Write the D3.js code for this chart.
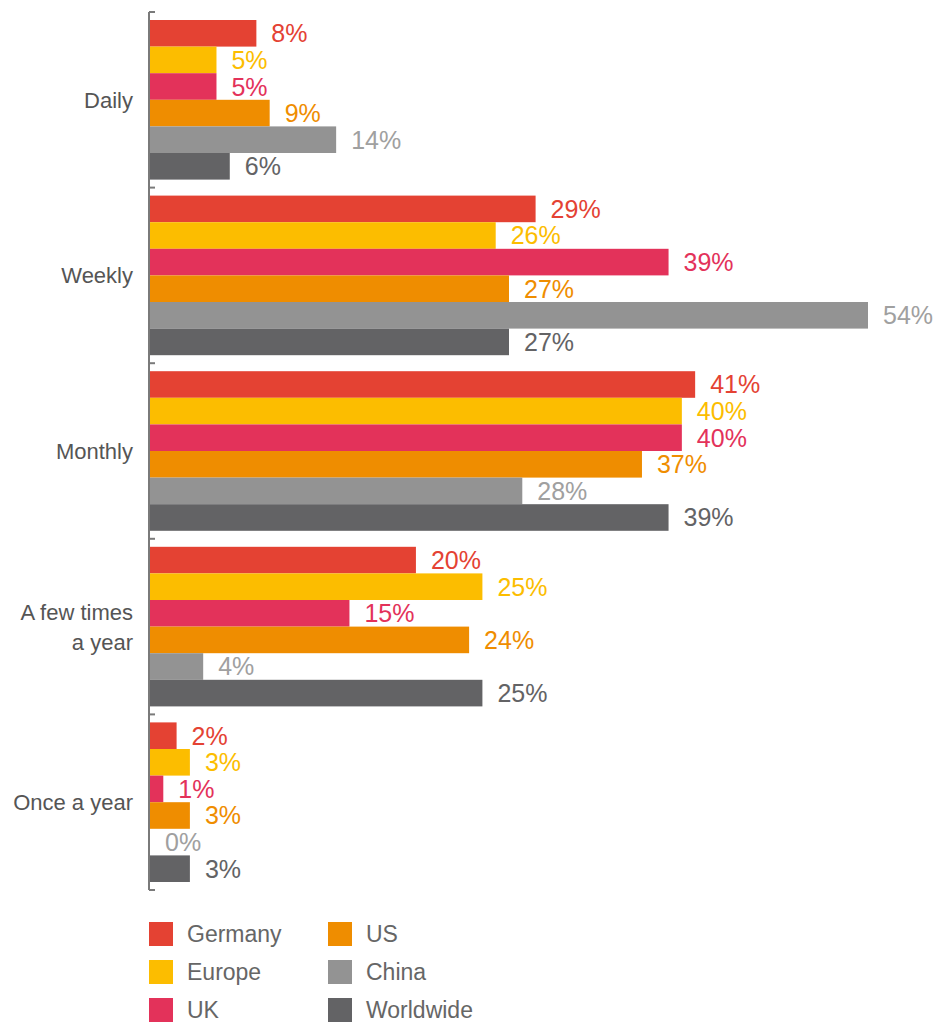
<!DOCTYPE html>
<html>
<head>
<meta charset="utf-8">
<script src="https://cdn.jsdelivr.net/npm/d3@7"></script>
<style>
  body { margin: 0; background: #fff; }
  text { font-family: "Liberation Sans", Arial, sans-serif; }
</style>
</head>
<body>
<div class="plot"></div>
<script>
// data
const categories = ["Daily", "Weekly", "Monthly", "A few times a year", "Once a year"];
const categoryLines = [["Daily"], ["Weekly"], ["Monthly"], ["A few times", "a year"], ["Once a year"]];
const seriesNames = ["Germany", "Europe", "UK", "US", "China", "Worldwide"];
const germany = [8, 29, 41, 20, 2];
const europe = [5, 26, 40, 25, 3];
const uk = [5, 39, 40, 15, 1];
const us = [9, 27, 37, 24, 3];
const china = [14, 54, 28, 4, 0];
const worldwide = [6, 27, 39, 25, 3];

const seriesValues = [germany, europe, uk, us, china, worldwide];
const barColors = ["#e44233", "#fcbd00", "#e3325a", "#ef8d00", "#939393", "#636365"];
const labelColors = ["#e44233", "#fcbd00", "#e3325a", "#ef8d00", "#a0a0a0", "#636365"];

const width = 933, height = 1023;
const margin = { top: 12, left: 150 };
const plotBottom = 890;

const svg = d3.select(".plot")
    .append("svg")
    .attr("width", width)
    .attr("height", height);

const x = d3.scaleLinear()
    .domain([0, 54])
    .range([margin.left, 868]);

const y0 = d3.scaleBand()
    .domain(categories)
    .range([margin.top, plotBottom])
    .paddingInner(0)
    .paddingOuter(0);

const y1 = d3.scaleBand()
    .domain(seriesNames)
    .range([8, y0.bandwidth() - 8]);

// bars
const groups = svg.selectAll(".cat")
    .data(categories)
    .enter().append("g")
    .attr("class", "cat")
    .attr("transform", d => `translate(0, ${y0(d)})`);

groups.each(function (cat, ci) {
    const g = d3.select(this);
    seriesNames.forEach((s, si) => {
        const v = seriesValues[si][ci];
        g.append("rect")
            .attr("x", x(0))
            .attr("y", y1(s))
            .attr("width", x(v) - x(0))
            .attr("height", y1.bandwidth())
            .attr("fill", barColors[si]);
        g.append("text")
            .attr("x", x(v) + 15)
            .attr("y", y1(s) + y1.bandwidth() / 2)
            .attr("dy", "0.36em")
            .attr("font-size", 25)
            .attr("fill", labelColors[si])
            .text(v + "%");
    });
});

// axis
const yAxis = d3.axisRight(y0).tickSize(6).tickFormat("");
const axisG = svg.append("g")
    .attr("transform", `translate(${margin.left - 1}, 0)`)
    .call(yAxis);
axisG.select(".domain").remove();
axisG.selectAll(".tick").remove();
axisG.append("line")
    .attr("y1", margin.top).attr("y2", plotBottom)
    .attr("stroke", "#7a7a7a").attr("stroke-width", 2);
const boundaries = categories.map(c => y0(c)).concat([plotBottom]);
axisG.selectAll(".bt")
    .data(boundaries)
    .enter().append("line")
    .attr("x1", 0).attr("x2", 6)
    .attr("y1", d => d).attr("y2", d => d)
    .attr("stroke", "#7a7a7a").attr("stroke-width", 2);

// category labels
categories.forEach((c, i) => {
    const lines = categoryLines[i];
    const cy = y0(c) + y0.bandwidth() / 2;
    const t = svg.append("text")
        .attr("x", 133)
        .attr("y", cy - (lines.length - 1) * 15)
        .attr("text-anchor", "end")
        .attr("font-size", 22)
        .attr("fill", "#555");
    lines.forEach((ln, li) => {
        t.append("tspan")
            .attr("x", 133)
            .attr("dy", li === 0 ? "0.36em" : 30)
            .text(ln);
    });
});

// legend
const legend = svg.append("g");
seriesNames.forEach((s, i) => {
    const col = Math.floor(i / 3), row = i % 3;
    const lx = 149 + col * 179, ly = 922 + row * 38;
    legend.append("rect")
        .attr("x", lx).attr("y", ly)
        .attr("width", 24).attr("height", 24)
        .attr("fill", barColors[i]);
    legend.append("text")
        .attr("x", lx + 38).attr("y", ly + 12)
        .attr("dy", "0.36em")
        .attr("font-size", 23)
        .attr("fill", "#666")
        .text(s);
});
</script>
</body>
</html>
